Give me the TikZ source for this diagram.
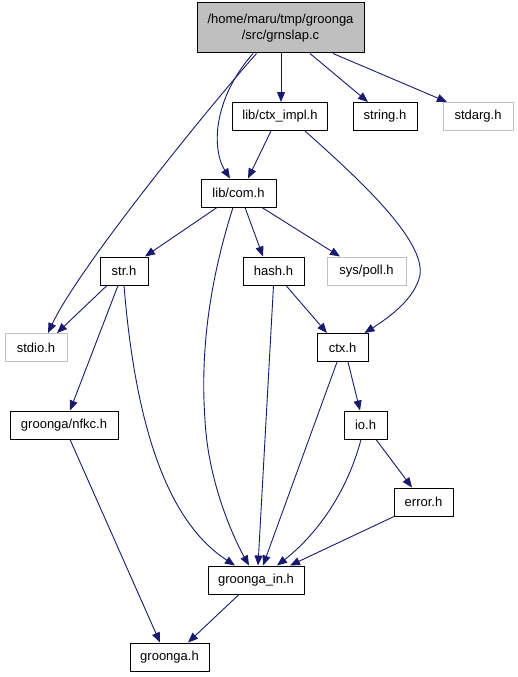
\documentclass[tikz,border=0pt]{standalone}
\usepackage{fontspec}
\setmainfont{Liberation Sans}
\usetikzlibrary{arrows.meta}
\definecolor{edgeblue}{HTML}{191970}
\definecolor{lgray}{HTML}{BFBFBF}
\begin{document}
\begin{tikzpicture}[x=1pt,y=-1pt,
  box/.style={draw=black,line width=1pt,fill=white,minimum height=28pt,inner sep=0pt,font=\fontsize{13}{16}\selectfont,anchor=center},
  gbox/.style={box,draw=lgray},
  e/.style={draw=edgeblue,line width=0.9pt,-{Triangle[length=10pt,width=8pt]}}]
\useasboundingbox (0,0) rectangle (517,677);
\fill[white] (0,0) rectangle (517,677);
% nodes
\node[box,fill=lgray,minimum width=167pt,minimum height=50pt,align=center] (top) at (280.5,28) {/home/maru/tmp/groonga\\/src/grnslap.c};
\node[box,minimum width=95pt] (ctximpl) at (280,116.5) {lib/ctx\_impl.h};
\node[box,minimum width=64pt] (string) at (385,116.5) {string.h};
\node[gbox,minimum width=70pt] (stdarg) at (478,116.5) {stdarg.h};
\node[box,minimum width=75pt] (com) at (238.5,193) {lib/com.h};
\node[box,minimum width=48pt] (str) at (124,271) {str.h};
\node[box,minimum width=61pt] (hash) at (273.5,271) {hash.h};
\node[gbox,minimum width=79pt] (poll) at (366.5,271) {sys/poll.h};
\node[gbox,minimum width=62pt] (stdio) at (36,347.5) {stdio.h};
\node[box,minimum width=51pt] (ctx) at (342.5,347.5) {ctx.h};
\node[box,minimum width=108pt] (nfkc) at (64,425) {groonga/nfkc.h};
\node[box,minimum width=43pt] (io) at (365.5,425) {io.h};
\node[box,minimum width=59pt] (error) at (423.5,502) {error.h};
\node[box,minimum width=96pt] (gin) at (256,580) {groonga\_in.h};
\node[box,minimum width=79pt] (gh) at (169.5,657) {groonga.h};
% edges
\draw[e] ([xshift=0.5pt]top.south) -- ([xshift=1pt]ctximpl.north);
\draw[e] ([xshift=29.5pt]top.south) -- ([xshift=-17pt]string.north);
\draw[e] ([xshift=52.5pt]top.south) -- ([xshift=-31pt]stdarg.north);
\draw[e] ([xshift=-24pt]top.south) .. controls (215,100) and (80,265) .. ([xshift=12pt]stdio.north);
\draw[e] ([xshift=-27.5pt]top.south) .. controls (212,100) and (212,150) .. ([xshift=-8.5pt]com.north);
\draw[e] ([xshift=-9pt]ctximpl.south) -- ([xshift=9.5pt]com.north);
\draw[e] ([xshift=25pt]ctximpl.south) .. controls (360,180) and (425,240) .. (420,275) .. controls (415,300) and (385,320) .. ([xshift=-4pt]ctx.north east);
\draw[e] ([xshift=-21.5pt]com.south) -- ([xshift=21pt]str.north);
\draw[e] ([xshift=-5.5pt]com.south) .. controls (210,280) and (200,350) .. (205,420) .. controls (208,480) and (232,535) .. ([xshift=-7pt]gin.north);
\draw[e] ([xshift=6.5pt]com.south) -- ([xshift=-10.5pt]hash.north);
\draw[e] ([xshift=23.5pt]com.south) -- ([xshift=-26.5pt]poll.north);
\draw[e] ([xshift=-17pt]str.south) -- ([xshift=21pt]stdio.north);
\draw[e] ([xshift=-6pt]str.south) -- ([xshift=6pt]nfkc.north);
\draw[e] (str.south) .. controls (135,420) and (165,520) .. ([xshift=-21pt]gin.north);
\draw[e] (hash.south) -- ([xshift=2pt]gin.north);
\draw[e] ([xshift=12.5pt]hash.south) -- ([xshift=-15.5pt]ctx.north);
\draw[e] ([xshift=-5.5pt]ctx.south) -- ([xshift=7pt]gin.north);
\draw[e] ([xshift=5.5pt]ctx.south) -- ([xshift=-5.5pt]io.north);
\draw[e] ([xshift=-4.5pt]io.south) .. controls (345,500) and (310,540) .. ([xshift=21pt]gin.north);
\draw[e] ([xshift=10.5pt]io.south) -- ([xshift=-11.5pt]error.north);
\draw[e] ([xshift=-29.5pt]error.south) -- ([xshift=34pt]gin.north);
\draw[e] ([xshift=6pt]nfkc.south) -- ([xshift=-9.5pt]gh.north);
\draw[e] ([xshift=-17pt]gin.south) -- ([xshift=18.5pt]gh.north);
\end{tikzpicture}
\end{document}
